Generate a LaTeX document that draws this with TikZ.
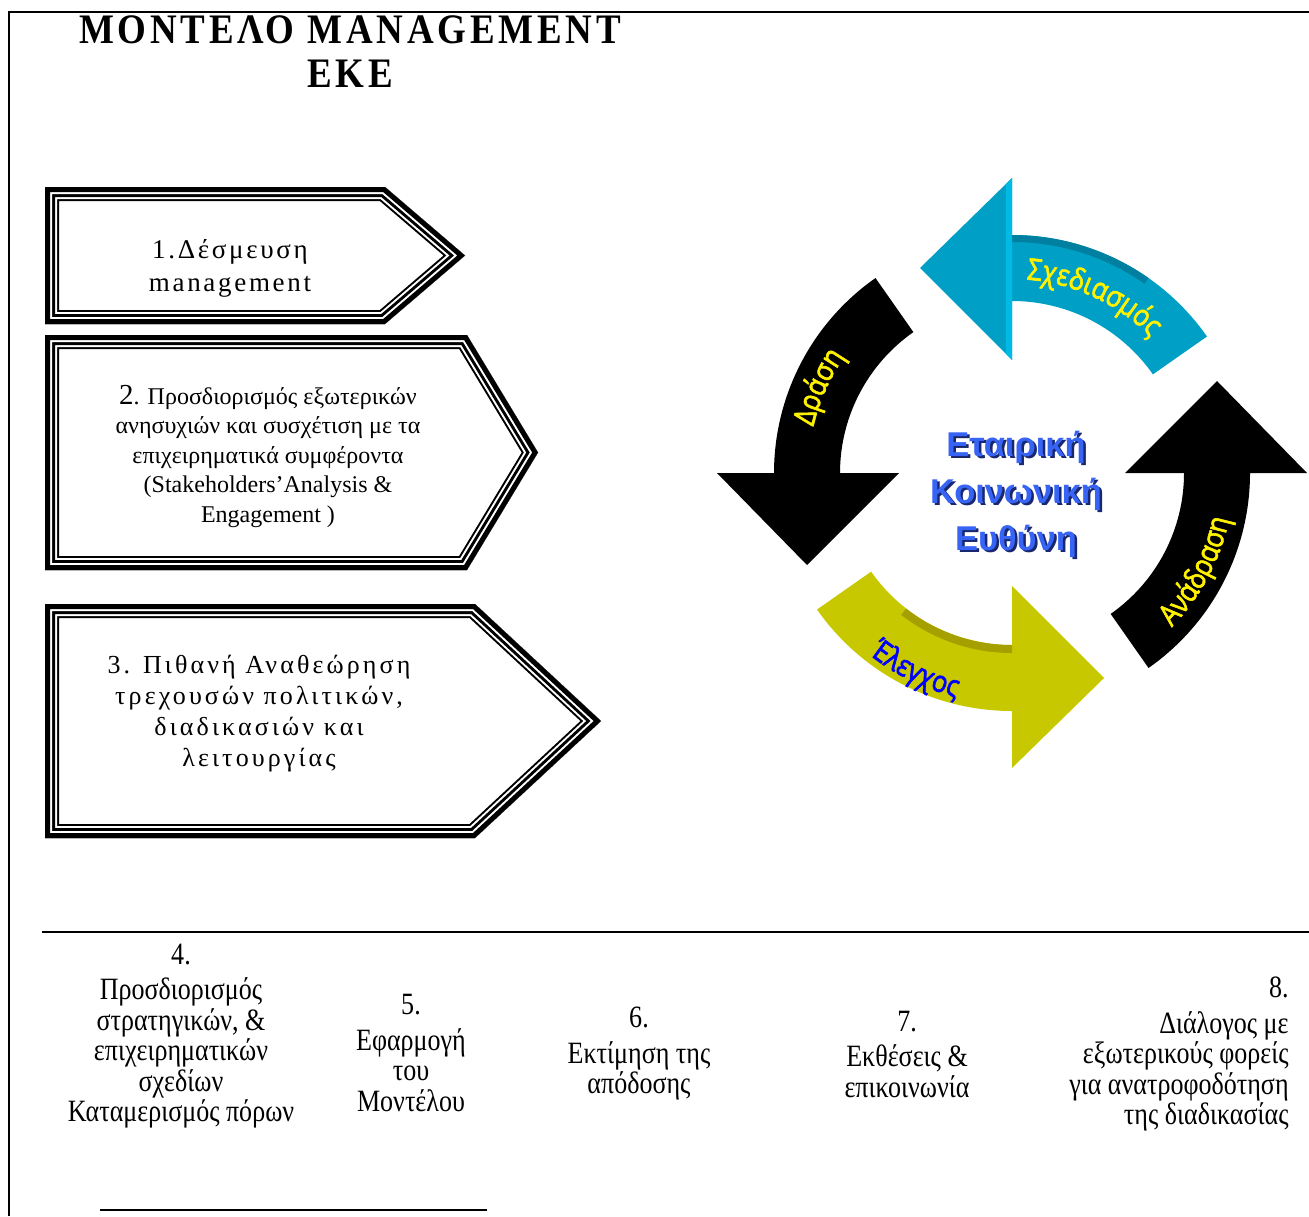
\documentclass[tikz,border=0pt]{standalone}
\usepackage{fontspec}
\setmainfont{Liberation Serif}
\newfontfamily\arrowfont{Open Sans}[FakeBold=2, FakeStretch=0.86]
\newfontfamily\centerfont{Liberation Sans}
\newfontfamily\titlefont{Liberation Serif}[FakeStretch=0.88, LetterSpace=9]
\newfontfamily\narrowserif{Liberation Serif}[FakeStretch=0.84]
\usetikzlibrary{calc,decorations.text}
\definecolor{plancol}{RGB}{0,160,198}
\definecolor{planband}{RGB}{0,128,160}
\definecolor{planlight}{RGB}{0,185,228}
\definecolor{checkcol}{RGB}{200,200,0}
\definecolor{checkband}{RGB}{165,160,0}
\definecolor{ekeblue}{RGB}{55,100,245}
\definecolor{ekeshadow}{RGB}{25,40,110}
\newcommand\triplebox[5]{%
  \begin{scope}
    \clip (#1,-#2) -- (#4,-#2) -- (#5,{-(#2+#3)/2}) -- (#4,-#3) -- (#1,-#3) -- cycle;
    \fill[white] (#1,-#2) -- (#4,-#2) -- (#5,{-(#2+#3)/2}) -- (#4,-#3) -- (#1,-#3) -- cycle;
    \foreach \w/\bcol in {14/black,12/white,10/black,7/white,5/black}{
      \draw[line width=\w pt, \bcol, line join=miter] (#1,-#2) -- (#4,-#2) -- (#5,{-(#2+#3)/2}) -- (#4,-#3) -- (#1,-#3) -- cycle;
    }
  \end{scope}}
\tikzset{
  serifbody/.style={font=\narrowserif\fontsize{15.5}{15.25}\selectfont, align=center, inner sep=0pt},
  arclabel/.style={decorate, decoration={text along path, text align=center, text color=#1}},
}
\begin{document}
\begin{tikzpicture}[x=0.5pt,y=0.5pt]
\useasboundingbox (0,0) rectangle (1309,-1216);
% frame
\draw[line width=1pt] (9,-1216) -- (9,-12) -- (1309,-12);
% title
\node[font=\titlefont\bfseries\fontsize{21}{22}\selectfont, align=center, inner sep=0pt] (title) at (350,-52) {ΜΟΝΤΕΛΟ MANAGEMENT\\ΕΚΕ};
% boxes
\triplebox{45}{187}{324}{385}{465}
\triplebox{45}{335}{570}{467}{538}
\triplebox{45}{604}{838}{475}{601}
\node[font=\fontsize{13.5}{16.5}\selectfont\addfontfeatures{LetterSpace=10}, align=center, inner sep=0pt] (b1) at (230,-268) {1.Δέσμευση\\management};
\node[font=\fontsize{12}{14.75}\selectfont, align=center, inner sep=0pt] (b2) at (268,-456) {{\fontsize{14.5}{14}\selectfont 2}. Προσδιορισμός εξωτερικών\\ανησυχιών και συσχέτιση με τα\\επιχειρηματικά συμφέροντα\\(Stakeholders’Analysis \&\\Engagement )};
\node[font=\fontsize{13}{15.5}\selectfont\addfontfeatures{LetterSpace=12}, align=center, inner sep=0pt] (b3) at (259,-714) {3. Πιθανή Αναθεώρηση\\τρεχουσών πολιτικών,\\διαδικασιών και\\λειτουργίας};
% ring
\coordinate (C) at (1012,-473);
\foreach \e/\col in {90/plancol,180/black,270/checkcol,360/black}{
  \fill[\col] ($(C)+(\e-55:238)$) arc[start angle=\e-55, end angle=\e, radius=238]
    -- ($(C)+(\e:295)$) -- ($(C)+(\e:205)+(\e+90:92)$) -- ($(C)+(\e:113)$)
    -- ($(C)+(\e:172)$) arc[start angle=\e, end angle=\e-55, radius=172] -- cycle;
}
% 3d bands
\fill[planband] ($(C)+(55:238)$) arc[start angle=55,end angle=90,radius=238] -- ($(C)+(90:231)$) arc[start angle=90,end angle=55,radius=231] -- cycle;
\fill[planlight] ($(C)+(90:113)$) -- ($(C)+(90:295)$) -- ($(C)+(90:289)+(180:6)$) -- ($(C)+(90:119)+(180:6)$) -- cycle;
\fill[checkband] ($(C)+(232:172)$) arc[start angle=232,end angle=270,radius=172] -- ($(C)+(270:180)$) arc[start angle=270,end angle=232,radius=180] -- cycle;
% arrow labels
\path[arclabel=yellow, decoration={text={|\arrowfont\fontsize{15}{16}\selectfont|Σχεδιασμός}}] ($(C)+(95:194)$) arc[start angle=95, end angle=35, radius=194];
\path[arclabel=yellow, decoration={text={|\arrowfont\fontsize{15}{16}\selectfont|Δράση}}] ($(C)+(186:204)$) arc[start angle=186, end angle=126, radius=204];
\path[arclabel=yellow, decoration={text={|\arrowfont\fontsize{15}{16}\selectfont|Ανάδραση}}] ($(C)+(302:222)$) arc[start angle=302, end angle=362, radius=222];
\path[arclabel=blue, decoration={text={|\arrowfont\fontsize{15}{16}\selectfont|Έλεγχος}}] ($(C)+(214:231)$) arc[start angle=214, end angle=274, radius=231];
% center text
\node[font=\centerfont\bfseries\fontsize{17.2}{23.5}\selectfont, text=ekeshadow, align=center, inner sep=0pt] (ekeshadow) at (1018.5,-496.5) {Εταιρική\\Κοινωνική\\Ευθύνη};
\node[font=\centerfont\bfseries\fontsize{17.2}{23.5}\selectfont, text=ekeblue, align=center, inner sep=0pt] (eke) at (1016,-494) {Εταιρική\\Κοινωνική\\Ευθύνη};
% separators
\draw[line width=1pt] (42,-932) -- (1309,-932);
\draw[line width=1pt] (100,-1210) -- (487,-1210);
% bottom steps
\node[serifbody] (s4) at (181,-1036) {4.\\[2.5pt]Προσδιορισμός\\στρατηγικών, \&\\επιχειρηματικών\\σχεδίων\\Καταμερισμός πόρων};
\node[serifbody] (s5) at (411,-1053) {5.\\[2.5pt]Εφαρμογή\\του\\Μοντέλου};
\node[serifbody] (s6) at (639,-1054) {6.\\[2.5pt]Εκτίμηση της\\απόδοσης};
\node[serifbody] (s7) at (907,-1054) {7.\\[2.5pt]Εκθέσεις \&\\επικοινωνία};
\node[serifbody, align=right, anchor=east] (s8) at (1289,-1054) {8.\\[2.5pt]Διάλογος με\\εξωτερικούς φορείς\\για ανατροφοδότηση\\της διαδικασίας};
\end{tikzpicture}
\end{document}
